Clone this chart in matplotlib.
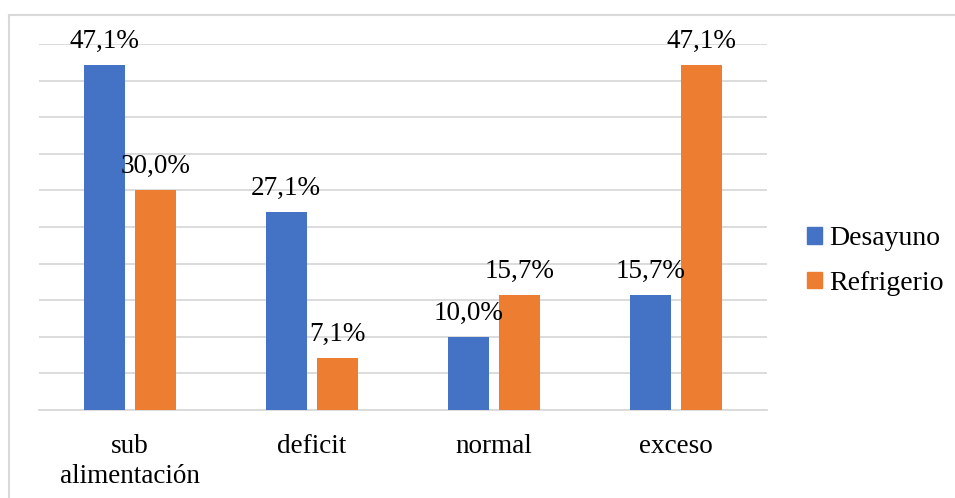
import numpy as np
import matplotlib.pyplot as plt
from matplotlib.patches import Patch
from matplotlib.lines import Line2D

plt.rcParams['font.family'] = ['Liberation Serif', 'DejaVu Serif']

categorias = ['sub\nalimentación', 'deficit', 'normal', 'exceso']
desayuno = [47.1, 27.1, 10.0, 15.7]
refrigerio = [30.0, 7.1, 15.7, 47.1]
series = ['Desayuno', 'Refrigerio']
colores = ['#4472C4', '#ED7D31']

W, H = 955, 498
dpi = 100
fig = plt.figure(figsize=(W / dpi, H / dpi), dpi=dpi)

# area de trazado en pixeles
x0, x1, ytop, ybot = 39, 767, 44, 410
ax = fig.add_axes([x0 / W, (H - ybot) / H, (x1 - x0) / W, (ybot - ytop) / H])

x = np.arange(len(categorias))
ancho = 0.225
sep = 0.06
fs = 19.5

for vals, nombre, col, off in [(desayuno, series[0], colores[0], -(ancho + sep) / 2),
                               (refrigerio, series[1], colores[1], (ancho + sep) / 2)]:
    barras = ax.bar(x + off, vals, width=ancho, color=col, zorder=3)
    for b, v in zip(barras, vals):
        ax.annotate(f'{v:.1f}%'.replace('.', ','),
                    (b.get_x() + b.get_width() / 2, v),
                    xytext=(0, 8), textcoords='offset points',
                    ha='center', va='bottom', fontsize=fs, zorder=4)

ax.set_xlim(-0.5, len(categorias) - 0.5)
ax.set_ylim(0, 50)
ax.set_yticks(np.arange(0, 51, 5))
ax.set_yticklabels([])
ax.tick_params(axis='y', length=0)
ax.grid(axis='y', color='#d9d9d9', linewidth=1.3, zorder=0)
ax.set_xticks(x)
ax.set_xticklabels(categorias, fontsize=fs, linespacing=1.3)
ax.tick_params(axis='x', length=0, pad=17)
for s in ['top', 'right', 'left']:
    ax.spines[s].set_visible(False)
ax.spines['bottom'].set_color('#d9d9d9')
ax.spines['bottom'].set_linewidth(1.3)

handles = [Patch(color=c) for c in colores]
fig.legend(handles, series, loc='center left', bbox_to_anchor=(807 / W, (H - 261) / H),
           frameon=False, fontsize=20, handlelength=0.55, handleheight=0.55,
           handletextpad=0.25, labelspacing=0.7, borderpad=0, borderaxespad=0)

# marco del grafico
fig.add_artist(Line2D([9 / W, 1], [(H - 15) / H] * 2, color='#d9d9d9', linewidth=1.5))
fig.add_artist(Line2D([9 / W] * 2, [0, (H - 15) / H], color='#d9d9d9', linewidth=1.5))

plt.savefig('out.png', dpi=dpi)
